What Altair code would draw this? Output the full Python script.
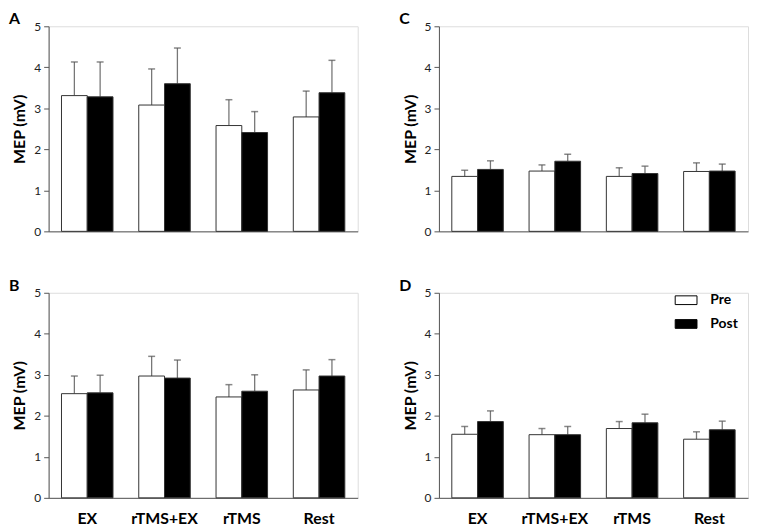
import altair as alt
import pandas as pd

groups = ["EX", "rTMS+EX", "rTMS", "Rest"]
phases = ["Pre", "Post"]

A_pre = [3.31, 3.08, 2.58, 2.79]
A_pre_sd = [0.82, 0.88, 0.63, 0.63]
A_post = [3.28, 3.60, 2.41, 3.38]
A_post_sd = [0.85, 0.87, 0.51, 0.79]

B_pre = [2.54, 2.97, 2.46, 2.63]
B_pre_sd = [0.43, 0.48, 0.30, 0.49]
B_post = [2.56, 2.92, 2.60, 2.97]
B_post_sd = [0.43, 0.44, 0.40, 0.40]

C_pre = [1.34, 1.47, 1.34, 1.46]
C_pre_sd = [0.15, 0.15, 0.21, 0.21]
C_post = [1.51, 1.71, 1.41, 1.47]
C_post_sd = [0.21, 0.17, 0.18, 0.17]

D_pre = [1.55, 1.54, 1.69, 1.43]
D_pre_sd = [0.19, 0.15, 0.17, 0.18]
D_post = [1.86, 1.54, 1.83, 1.66]
D_post_sd = [0.26, 0.20, 0.21, 0.21]

y_ticks = [0, 1, 2, 3, 4, 5]

FONT = "Lato"
W, H = 312, 207


def make_df(pre, pre_sd, post, post_sd):
    rows = []
    for g, m, s in zip(groups, pre, pre_sd):
        rows.append({"group": g, "phase": "Pre", "mean": m, "upper": m + s})
    for g, m, s in zip(groups, post, post_sd):
        rows.append({"group": g, "phase": "Post", "mean": m, "upper": m + s})
    return pd.DataFrame(rows)


def panel(letter, pre, pre_sd, post, post_sd, show_x, show_legend):
    df = make_df(pre, pre_sd, post, post_sd)
    if show_x:
        xaxis = alt.Axis(title=None, labelAngle=0, labelFontSize=16, labelFontWeight="bold",
                         labelColor="black", labelFont=FONT, ticks=False, labelPadding=13,
                         domainColor="#555")
    else:
        xaxis = alt.Axis(title=None, labels=False, ticks=False, domainColor="#555")
    x = alt.X("group:N", sort=groups,
              scale=alt.Scale(paddingInner=1 / 3, paddingOuter=1 / 6), axis=xaxis)
    xo = alt.XOffset("phase:N", sort=phases, scale=alt.Scale(paddingInner=0, paddingOuter=0))
    y = alt.Y("mean:Q", scale=alt.Scale(domain=[0, 5], nice=False),
              axis=alt.Axis(values=y_ticks, grid=False, title="MEP (mV)", titleFontSize=16,
                            titleFontWeight="bold", titleColor="black", titleFont=FONT,
                            labelFont=FONT, labelFontSize=12, labelColor="#222",
                            tickColor="#555", domainColor="#555", tickSize=5,
                            labelPadding=3, titlePadding=6))
    if show_legend:
        legend = alt.Legend(title=None, orient="none", legendX=238, legendY=-4,
                            symbolType="M-1,-0.4L1,-0.4L1,0.4L-1,0.4Z", symbolSize=484,
                            symbolStrokeColor="black", symbolStrokeWidth=1,
                            labelFont=FONT, labelFontSize=14, labelFontWeight="bold",
                            labelColor="black", rowPadding=5, labelOffset=13, padding=0)
    else:
        legend = None
    color = alt.Color("phase:N", sort=phases,
                      scale=alt.Scale(domain=phases, range=["white", "black"]), legend=legend)
    base = alt.Chart(df)
    err = base.mark_rule(color="#777", strokeWidth=1.3).encode(x=x, xOffset=xo, y=y, y2="upper:Q")
    cap = base.mark_tick(color="#555", size=7, thickness=1.5).encode(
        x=x, xOffset=xo, y=alt.Y("upper:Q"))
    bars = base.mark_bar(stroke="#333", strokeWidth=1).encode(x=x, xOffset=xo, y=y, color=color)
    return alt.layer(err, cap, bars).properties(
        width=W, height=H,
        title=alt.TitleParams(letter, anchor="start", frame="bounds", fontSize=16,
                              fontWeight="bold", font=FONT, color="black", offset=-7, dx=-3),
    )


pA = panel("A", A_pre, A_pre_sd, A_post, A_post_sd, False, False)
pC = panel("C", C_pre, C_pre_sd, C_post, C_post_sd, False, False)
pB = panel("B", B_pre, B_pre_sd, B_post, B_post_sd, True, False)
pD = panel("D", D_pre, D_pre_sd, D_post, D_post_sd, True, True)

top = alt.hconcat(pA, pC, spacing=40).resolve_scale(color="independent").resolve_legend(color="independent")
bottom = alt.hconcat(pB, pD, spacing=40).resolve_scale(color="independent").resolve_legend(color="independent")

chart = alt.vconcat(top, bottom, spacing=39).resolve_scale(color="independent").resolve_legend(
    color="independent").properties(padding=0).configure_view(stroke=None).configure(font=FONT)

chart.save("out.html", embed_options={"renderer": "svg", "actions": False})
